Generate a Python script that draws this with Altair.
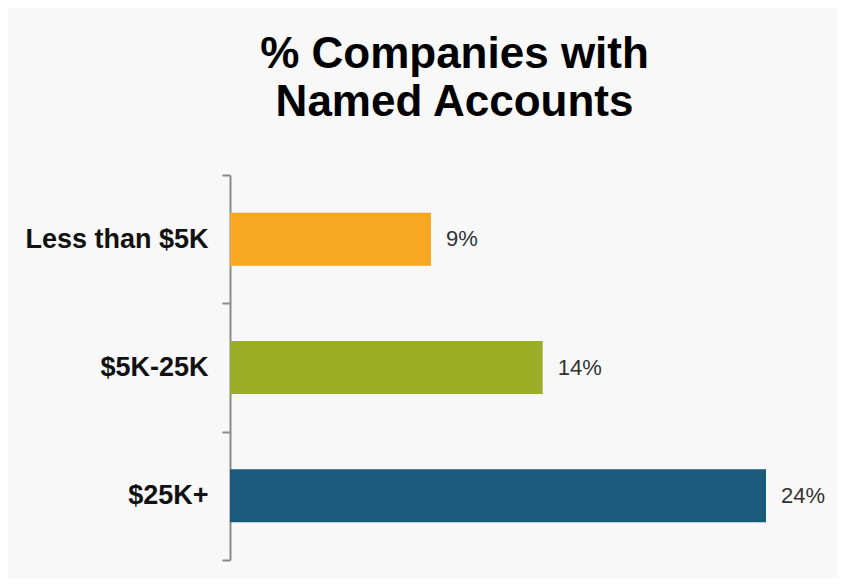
import altair as alt
import pandas as pd

categories = ["Less than $5K", "$5K-25K", "$25K+"]
values = [9, 14, 24]
labels = ["9%", "14%", "24%"]
colors = ["#F6A823", "#9BAF26", "#1C5A7C"]

df = pd.DataFrame({"cat": categories, "val": values, "lab": labels, "col": colors})

y = alt.Y("cat:N", sort=categories, title=None,
          scale=alt.Scale(paddingInner=0, paddingOuter=0),
          axis=alt.Axis(labelFont="Liberation Sans", labelFontSize=27, labelFontWeight="bold",
                        labelColor="#111111", domainColor="#8a8a8a", domainWidth=2,
                        tickColor="#8a8a8a", tickWidth=2, tickSize=8, tickBand="extent",
                        labelPadding=14, labelLimit=400))
x = alt.X("val:Q", title=None, scale=alt.Scale(domain=[0, 27]), axis=None)

bars = alt.Chart(df).mark_bar(size=53).encode(x=x, y=y, color=alt.Color("col:N", scale=None))
text = alt.Chart(df).mark_text(align="left", baseline="middle", dx=15, fontSize=22,
                               font="Liberation Sans", color="#333333").encode(
    x=x, y=alt.Y("cat:N", sort=categories), text="lab:N")

chart = alt.layer(bars, text).properties(
    width=603, height=385,
    title=alt.TitleParams(["% Companies with", "Named Accounts"], font="Liberation Sans",
                          fontSize=44, fontWeight="bold", color="#000000", anchor="middle",
                          frame="group", dx=-77, offset=36, lineHeight=48),
    autosize=alt.AutoSizeParams(type="none"),
    padding={"left": 222, "top": 167, "right": 5, "bottom": 18},
).configure(background="#F7F8F7").configure_view(stroke=None)

chart.save("out.html", embed_options={"renderer": "svg", "actions": False})
